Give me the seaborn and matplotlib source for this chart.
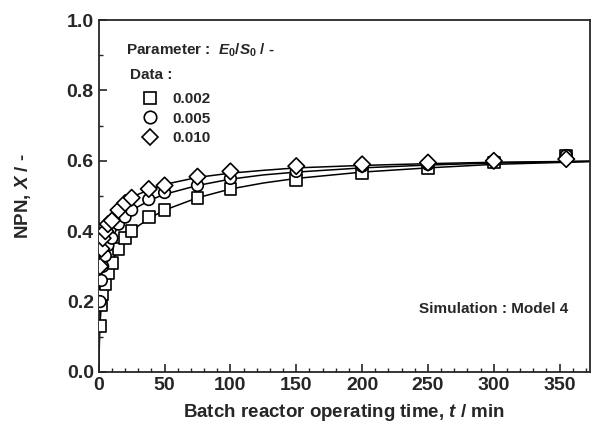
import pandas as pd
import matplotlib
matplotlib.use('Agg')
import matplotlib.pyplot as plt
from matplotlib.ticker import MultipleLocator
from matplotlib.lines import Line2D
import seaborn as sns

# measured data (E0/S0 = 0.002, 0.005, 0.010)
t_data = [1, 2, 3, 5, 7, 10, 15, 20, 25, 38, 50, 75, 100, 150, 200, 250, 300, 355]
x_002 = [0.13, 0.19, 0.22, 0.25, 0.28, 0.31, 0.35, 0.38, 0.40, 0.44, 0.46, 0.495,
         0.52, 0.545, 0.565, 0.58, 0.595, 0.615]
x_005 = [0.20, 0.26, 0.30, 0.33, 0.36, 0.38, 0.42, 0.44, 0.46, 0.49, 0.51, 0.53,
         0.55, 0.57, 0.585, 0.59, 0.60, 0.615]
x_010 = [0.30, 0.35, 0.38, 0.40, 0.42, 0.43, 0.46, 0.48, 0.495, 0.52, 0.53, 0.555,
         0.57, 0.585, 0.59, 0.595, 0.60, 0.605]

# simulation curves (Model 4)
t_sim = [0, 0.5, 1, 2, 3, 5, 7, 10, 15, 20, 25, 30, 40, 50, 75, 100, 125, 150,
         200, 250, 300, 375]
sim_002 = [0, 0.08, 0.14, 0.19, 0.22, 0.26, 0.285, 0.315, 0.35, 0.375, 0.395, 0.415,
           0.44, 0.46, 0.495, 0.52, 0.537, 0.55, 0.568, 0.58, 0.59, 0.598]
sim_005 = [0, 0.14, 0.20, 0.26, 0.29, 0.33, 0.355, 0.38, 0.415, 0.44, 0.455, 0.47,
           0.49, 0.505, 0.53, 0.548, 0.56, 0.568, 0.58, 0.588, 0.594, 0.599]
sim_010 = [0, 0.20, 0.27, 0.33, 0.36, 0.395, 0.415, 0.435, 0.465, 0.48, 0.495, 0.505,
           0.52, 0.533, 0.553, 0.565, 0.573, 0.58, 0.587, 0.592, 0.596, 0.599]

ratios = ['0.002', '0.005', '0.010']
markers = {'0.002': 's', '0.005': 'o', '0.010': 'D'}

df = pd.DataFrame({
    't': t_data * 3,
    'X': x_002 + x_005 + x_010,
    'ratio': [r for r in ratios for _ in t_data],
})
sim = pd.DataFrame({
    't': t_sim * 3,
    'X': sim_002 + sim_005 + sim_010,
    'ratio': [r for r in ratios for _ in t_sim],
})

sns.set_style('ticks')
plt.rcParams['font.family'] = ['Liberation Sans', 'DejaVu Sans']
plt.rcParams['font.weight'] = 'bold'
plt.rcParams['mathtext.fontset'] = 'custom'
plt.rcParams['mathtext.it'] = 'Liberation Sans:italic:bold'
plt.rcParams['mathtext.rm'] = 'Liberation Sans:bold'
plt.rcParams['xtick.direction'] = 'in'
plt.rcParams['ytick.direction'] = 'in'

fig = plt.figure(figsize=(6.02, 4.28), dpi=100)
ax = fig.add_axes([0.164, 0.131, 0.816, 0.822])

for r in ratios:
    d = sim[sim['ratio'] == r]
    sns.lineplot(x=d['t'], y=d['X'], color='black', lw=1.1, ax=ax, zorder=2)

sns.scatterplot(data=df, x='t', y='X', style='ratio', markers=markers,
                s=70, facecolor='white', edgecolor='black', linewidth=1.2,
                legend=False, ax=ax, zorder=3)

ax.set_xlim(0, 373)
ax.set_ylim(0, 1.0)
ax.xaxis.set_major_locator(MultipleLocator(50))
ax.xaxis.set_minor_locator(MultipleLocator(10))
ax.yaxis.set_major_locator(MultipleLocator(0.2))
ax.yaxis.set_minor_locator(MultipleLocator(0.1))
ax.yaxis.set_major_formatter(plt.FormatStrFormatter('%.1f'))
ax.tick_params(which='both', direction='in', labelsize=14)
ax.tick_params(which='major', length=6, width=1.2)
ax.tick_params(which='minor', length=3, width=1)
for s in ax.spines.values():
    s.set_linewidth(1.3)

ax.set_xlabel('Batch reactor operating time, $\\mathit{t}$ / min', fontsize=13.5,
              fontweight='bold', labelpad=6)
ax.set_ylabel('NPN, $\\mathit{X}$ / -', fontsize=13.5, fontweight='bold', labelpad=24)

ax.text(0.055, 0.915, 'Parameter :  $\\mathit{E}_0$/$\\mathit{S}_0$ / -',
        transform=ax.transAxes, fontsize=11, fontweight='bold', va='center')
ax.text(0.063, 0.845, 'Data :', transform=ax.transAxes, fontsize=11,
        fontweight='bold', va='center')

handles = [Line2D([], [], marker=markers[r], ls='none', mfc='white', mec='black',
                  ms=9 if r != '0.010' else 8, mew=1.2, label=r) for r in ratios]
ax.legend(handles=handles, loc='upper left', bbox_to_anchor=(0.085, 0.795),
          frameon=False, fontsize=11, handletextpad=0.9, labelspacing=0.35,
          borderpad=0, borderaxespad=0, handlelength=1.2)

ax.text(0.955, 0.18, 'Simulation : Model 4', transform=ax.transAxes, fontsize=11,
        fontweight='bold', ha='right', va='center')

fig.savefig('out.png', dpi=100)
